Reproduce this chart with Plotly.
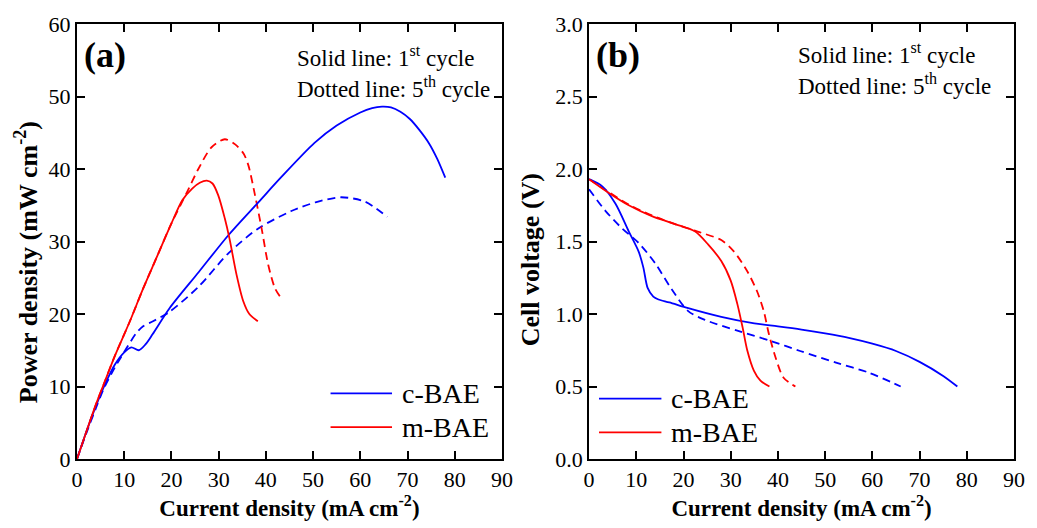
import plotly.graph_objects as go
from plotly.subplots import make_subplots

# ---------- data ----------
# Panel (a): power density (mW cm-2) vs current density (mA cm-2)
c_pow1_x = [0, 2, 4, 6, 8, 10, 11.5, 13.1, 14.5, 16, 19.6, 25.8, 32.1, 38.4, 43.3, 50.3, 55, 60, 62.5, 64.6, 66.5, 68.5, 70.5, 72.5, 74.5, 76.3, 78]
c_pow1_y = [0, 3.8, 7.3, 10.4, 13.0, 14.7, 15.4, 15.0, 15.8, 17.2, 20.8, 25.8, 30.9, 35.4, 38.9, 43.6, 46.0, 47.8, 48.4, 48.6, 48.5, 47.9, 46.9, 45.4, 43.6, 41.4, 38.8]
c_pow5_x = [0, 2, 4, 5.6, 8, 10.5, 12.6, 14, 16.1, 19.6, 25.8, 32.1, 38.4, 45.4, 50.5, 55.9, 61, 65.7]
c_pow5_y = [0, 3.6, 7.0, 9.6, 12.6, 15.3, 17.4, 18.3, 19.0, 20.3, 23.8, 28.4, 31.8, 34.2, 35.4, 36.1, 35.5, 33.4]
m_pow1_x = [0, 2, 4, 5.6, 8, 11.2, 14, 16.8, 20, 22.3, 24.4, 26, 27.5, 28.7, 29.9, 31.3, 32.3, 33.8, 35.2, 36.5, 38.3]
m_pow1_y = [0, 3.8, 7.5, 10.2, 14.2, 19.0, 23.5, 27.7, 32.5, 35.7, 37.3, 38.1, 38.4, 38.0, 36.4, 33.2, 30.4, 25.4, 21.8, 20.0, 19.0]
m_pow5_x = [0, 2, 4, 5.6, 8, 11.2, 14, 16.8, 20, 23.3, 25.7, 28.5, 31.3, 33.5, 35.3, 36.3, 37.7, 39.1, 40.5, 41.9, 43.0]
m_pow5_y = [0, 3.8, 7.5, 10.2, 14.2, 19.0, 23.5, 27.7, 32.5, 36.8, 40.0, 43.0, 44.1, 43.4, 42.1, 40.5, 36.4, 31.8, 26.8, 23.6, 22.4]

# Panel (b): cell voltage (V) vs current density (mA cm-2)
c_v1_x = [0, 2.8, 5.6, 8.4, 10.5, 11.5, 12.4, 13.6, 14.7, 17, 21, 28, 35, 40, 45, 50, 55, 60, 65, 70, 75, 78]
c_v1_y = [1.93, 1.88, 1.76, 1.57, 1.43, 1.32, 1.18, 1.12, 1.10, 1.08, 1.04, 0.98, 0.935, 0.915, 0.893, 0.866, 0.835, 0.795, 0.745, 0.67, 0.573, 0.50]
c_v5_x = [0, 3.5, 7, 10.5, 14, 17.5, 21, 24.5, 31.4, 38.4, 44.7, 52.3, 59.3, 66]
c_v5_y = [1.86, 1.71, 1.59, 1.49, 1.35, 1.17, 1.02, 0.96, 0.885, 0.815, 0.745, 0.665, 0.595, 0.50]
m_v1_x = [0, 4.2, 8.4, 13.3, 18.2, 22.4, 25.2, 28, 30, 31.4, 32.5, 33.5, 34.9, 36.3, 38.2]
m_v1_y = [1.93, 1.835, 1.75, 1.675, 1.62, 1.57, 1.48, 1.365, 1.23, 1.07, 0.91, 0.75, 0.61, 0.54, 0.50]
m_v5_x = [0, 4.2, 8.4, 13.3, 18.2, 22.4, 23.8, 28, 30.7, 33.5, 35.6, 37.0, 38.1, 39.5, 41.2, 43.7]
m_v5_y = [1.93, 1.84, 1.755, 1.68, 1.62, 1.575, 1.56, 1.51, 1.43, 1.295, 1.155, 1.02, 0.86, 0.70, 0.56, 0.50]

x_ticks = [0, 10, 20, 30, 40, 50, 60, 70, 80, 90]
p_ticks = [0, 10, 20, 30, 40, 50, 60]
v_ticks = [0.0, 0.5, 1.0, 1.5, 2.0, 2.5, 3.0]
series_names = ["c-BAE", "m-BAE"]

BLUE = "#0000FF"
RED = "#FF0000"
FONT = "Liberation Serif, Times New Roman, serif"
DASH = "8px,5px"

fig = make_subplots(rows=1, cols=2, horizontal_spacing=0.093)

def add(x, y, color, dash, name, col):
    fig.add_trace(go.Scatter(x=x, y=y, mode="lines", name=name, showlegend=False,
                             line=dict(color=color, width=1.8, dash=dash, shape="spline", smoothing=0.8)),
                  row=1, col=col)

# panel (a)
add(c_pow5_x, c_pow5_y, BLUE, DASH, "c-BAE 5th", 1)
add(m_pow5_x, m_pow5_y, RED, DASH, "m-BAE 5th", 1)
add(c_pow1_x, c_pow1_y, BLUE, "solid", "c-BAE", 1)
add(m_pow1_x, m_pow1_y, RED, "solid", "m-BAE", 1)
# panel (b)
add(c_v5_x, c_v5_y, BLUE, DASH, "c-BAE 5th", 2)
add(m_v5_x, m_v5_y, RED, DASH, "m-BAE 5th", 2)
add(c_v1_x, c_v1_y, BLUE, "solid", "c-BAE", 2)
add(m_v1_x, m_v1_y, RED, "solid", "m-BAE", 2)

axis_common = dict(showline=True, linecolor="black", linewidth=2, mirror="ticks",
                   ticks="inside", ticklen=8, tickwidth=1.6, tickcolor="black",
                   showgrid=False, zeroline=False,
                   tickfont=dict(family=FONT, size=22, color="black"))

xtitle = "<b>Current density (mA cm<sup>-2</sup>)</b>"
fig.update_xaxes(**axis_common, range=[0, 90], tickvals=x_ticks,
                 title=dict(text=xtitle, font=dict(family=FONT, size=23, color="black"), standoff=4))
fig.update_xaxes(domain=[0, 0.4535], row=1, col=1)
fig.update_xaxes(domain=[0.5465, 1.0], row=1, col=2)

fig.update_yaxes(**axis_common)
fig.update_yaxes(range=[0, 60], tickvals=p_ticks, row=1, col=1)
fig.update_yaxes(range=[0, 3.0], tickvals=v_ticks, tickformat=".1f", row=1, col=2)

ann = []
def text(x, y, t, size, xanchor="left", angle=0):
    ann.append(dict(x=x, y=y, xref="paper", yref="paper", text=t, showarrow=False, textangle=angle,
                    xanchor=xanchor, yanchor="middle", font=dict(family=FONT, size=size, color="black")))

# y-axis titles (placed slightly below axis centre, as in the reference)
text(-0.0539, 0.4537, "<b>Power density (mW cm<sup>-2</sup>)</b>", 26, xanchor="center", angle=-90)
text(0.4841, 0.4582, "<b>Cell voltage (V)</b>", 26, xanchor="center", angle=-90)

text(0.0053, 0.9285, "<b>(a)</b>", 36)
text(0.5521, 0.9285, "<b>(b)</b>", 36)
text(0.2326, 0.925, "Solid line: 1<sup>st</sup> cycle", 23)
text(0.2326, 0.853, "Dotted line: 5<sup>th</sup> cycle", 23)
text(0.7671, 0.932, "Solid line: 1<sup>st</sup> cycle", 23)
text(0.7671, 0.860, "Dotted line: 5<sup>th</sup> cycle", 23)

shapes = []
legend_pos = [  # (x0, x1, text_x, [y_c, y_m])
    (0.2706, 0.3362, 0.3446, [0.1507, 0.0731]),
    (0.5571, 0.6237, 0.6321, [0.1386, 0.0610]),
]
for x0, x1, tx, ys in legend_pos:
    for name, color, yy in zip(series_names, [BLUE, RED], ys):
        shapes.append(dict(type="line", xref="paper", yref="paper", x0=x0, x1=x1, y0=yy, y1=yy,
                           line=dict(color=color, width=1.8)))
        text(tx, yy, name, 28)

fig.update_layout(width=1037, height=528, margin=dict(l=77, r=14, t=21, b=69),
                  paper_bgcolor="white", plot_bgcolor="white",
                  font=dict(family=FONT, color="black"),
                  annotations=ann, shapes=shapes, showlegend=False)

fig.write_html("out.html")
